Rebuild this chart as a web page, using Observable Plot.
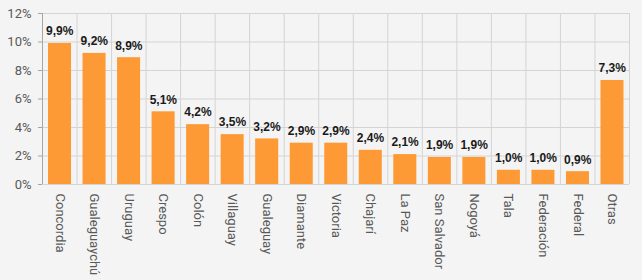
<!DOCTYPE html>
<html>
<head>
<meta charset="utf-8">
<script src="https://cdn.jsdelivr.net/npm/d3@7"></script>
<script src="https://cdn.jsdelivr.net/npm/@observablehq/plot@0.6"></script>
<style>
  html, body { margin: 0; padding: 0; background: #f4f4f4; }
  #chart svg { display: block; }
</style>
</head>
<body>
<div id="chart"></div>
<script>
// Share of each department (percent)
const departamentos = ["Concordia", "Gualeguaychú", "Uruguay", "Crespo", "Colón", "Villaguay", "Gualeguay", "Diamante", "Victoria", "Chajarí", "La Paz", "San Salvador", "Nogoyá", "Tala", "Federación", "Federal", "Otras"];
const porcentajes = [9.9, 9.2, 8.9, 5.1, 4.2, 3.5, 3.2, 2.9, 2.9, 2.4, 2.1, 1.9, 1.9, 1.0, 1.0, 0.9, 7.3];
const yTicks = [0, 2, 4, 6, 8, 10, 12];

const data = departamentos.map((nombre, i) => ({ i, nombre, valor: porcentajes[i] }));
const fmt = v => v.toFixed(1).replace(".", ",") + "%";

const chart = Plot.plot({
  width: 642,
  height: 280,
  marginLeft: 42,
  marginRight: 13,
  marginTop: 13,
  marginBottom: 96,
  style: { background: "#f4f4f4", fontFamily: "Roboto, Liberation Sans, Arial, sans-serif" },
  x: { type: "linear", domain: [0, departamentos.length], axis: null },
  y: { domain: [0, 12], axis: null },
  marks: [
    // horizontal grid
    Plot.ruleY(yTicks, { stroke: "#d4d4d4", strokeWidth: 1 }),
    // vertical grid at category boundaries
    Plot.ruleX(d3.range(departamentos.length + 1), { stroke: "#d4d4d4", strokeWidth: 1 }),
    Plot.rectY(data, { x1: "i", x2: d => d.i + 1, y: "valor", fill: "#fd9a35", insetLeft: 6, insetRight: 5.5 }),
    Plot.text(data, { x: d => d.i + 0.5, y: "valor", text: d => fmt(d.valor), dy: -12, fontWeight: "bold", fontSize: 12, fill: "#1a1a1a", fontFamily: "Liberation Sans, Arial, sans-serif" }),
    // y axis
    Plot.ruleX([0], { stroke: "#a6a6a6" }),
    Plot.axisY({ ticks: yTicks, tickFormat: d => d + "%", tickSize: 4, stroke: "#a6a6a6", fill: "#595959", fontSize: 13, tickPadding: 7, label: null }),
    // category labels
    Plot.axisX({ ticks: data.map(d => d.i + 0.5), tickFormat: d => departamentos[Math.floor(d)], tickSize: 0, tickRotate: 90, textAnchor: "start", tickPadding: 9, fill: "#595959", fontSize: 13, stroke: null, label: null })
  ]
});
document.getElementById("chart").append(chart);
</script>
</body>
</html>
